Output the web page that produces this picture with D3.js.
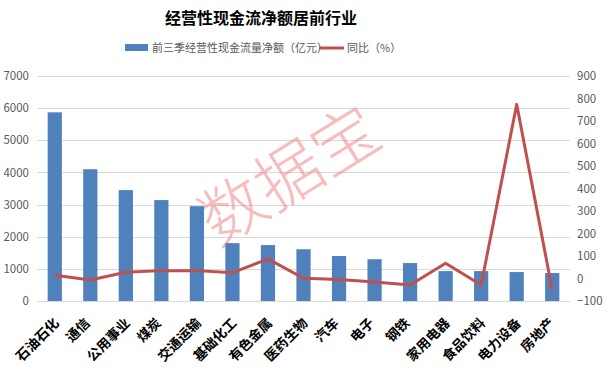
<!DOCTYPE html>
<html>
<head>
<meta charset="utf-8">
<script src="https://cdn.jsdelivr.net/npm/d3@7"></script>
<style>
  body { margin: 0; background: #fff; }
  text { font-family: "Noto Sans CJK SC", "DejaVu Sans", sans-serif; }
</style>
</head>
<body>
<svg id="chart" width="606" height="371"></svg>
<script>
// data
let categories = ["石油石化", "通信", "公用事业", "煤炭", "交通运输", "基础化工", "有色金属", "医药生物",
                  "汽车", "电子", "钢铁", "家用电器", "食品饮料", "电力设备", "房地产"];
let cashFlow = [5870, 4100, 3450, 3140, 2950, 1800, 1740, 1610, 1400, 1300, 1180, 930, 930, 900, 870];
let yoy = [14, -7, 28, 35, 35, 26, 87, 1, -4, -16, -29, 68, -29, 774, -51];
let leftTicks = [0, 1000, 2000, 3000, 4000, 5000, 6000, 7000];
let rightTicks = [-100, 0, 100, 200, 300, 400, 500, 600, 700, 800, 900];

let width = 606, height = 371;
let margin = ({top: 76, right: 36, bottom: 70, left: 37});

const svg = d3.select("#chart");

let x = d3.scaleBand()
    .domain(categories)
    .range([margin.left, width - margin.right])
    .paddingInner(0.6)
    .paddingOuter(0.3);

let y = d3.scaleLinear()
    .domain([0, 7000])
    .range([height - margin.bottom, margin.top]);

let y2 = d3.scaleLinear()
    .domain([-100, 900])
    .range([height - margin.bottom, margin.top]);

// gridlines
svg.append("g")
    .selectAll("line")
    .data(leftTicks)
    .join("line")
      .attr("x1", margin.left)
      .attr("x2", width - margin.right)
      .attr("y1", d => Math.round(y(d)) + 0.5)
      .attr("y2", d => Math.round(y(d)) + 0.5)
      .attr("stroke", "#d9d9d9")
      .attr("stroke-width", 1);

// left axis
const yAxis = g => g
    .attr("transform", `translate(${margin.left - 8},0)`)
    .call(d3.axisLeft(y).tickValues(leftTicks).tickFormat(d3.format("d")).tickSize(0).tickPadding(0))
    .call(g => g.select(".domain").remove())
    .call(g => g.selectAll("text")
        .attr("fill", "#595959")
        .attr("font-size", 11.5)
        .attr("font-family", "'Liberation Sans', Arial, sans-serif"));

// right axis
const y2Axis = g => g
    .attr("transform", `translate(${width - margin.right + 7},0)`)
    .call(d3.axisRight(y2).tickValues(rightTicks).tickFormat(d3.format("d")).tickSize(0).tickPadding(0))
    .call(g => g.select(".domain").remove())
    .call(g => g.selectAll("text")
        .attr("fill", "#595959")
        .attr("font-size", 11.5)
        .attr("font-family", "'Liberation Sans', Arial, sans-serif"));

svg.append("g").call(yAxis);
svg.append("g").call(y2Axis);

// watermark
svg.append("text")
    .attr("transform", "translate(292,180) rotate(-32)")
    .attr("text-anchor", "middle")
    .attr("dominant-baseline", "middle")
    .attr("font-size", 66)
    .attr("font-weight", 300)
    .attr("fill", "#f27a7a")
    .attr("fill-opacity", 0.5)
    .text("数据宝");

// bars
svg.append("g")
    .attr("fill", "#4f81bd")
  .selectAll("rect")
  .data(cashFlow)
  .join("rect")
    .attr("x", (d, i) => x(categories[i]))
    .attr("y", d => y(d))
    .attr("width", x.bandwidth())
    .attr("height", d => y(0) - y(d));

// line
const line = d3.line()
    .x((d, i) => x(categories[i]) + x.bandwidth() / 2)
    .y(d => y2(d));

svg.append("path")
    .datum(yoy)
    .attr("fill", "none")
    .attr("stroke", "#c0504d")
    .attr("stroke-width", 3)
    .attr("stroke-linejoin", "round")
    .attr("d", line);

// category labels
svg.append("g")
  .selectAll("text")
  .data(categories)
  .join("text")
    .attr("transform", d => `translate(${x(d) + x.bandwidth() / 2 - 4 + 2.25 * d.length},324) rotate(-45)`)
    .attr("text-anchor", "end")
    .attr("font-size", 13.5)
    .attr("font-weight", "bold")
    .attr("font-family", "'Noto Serif CJK SC', 'Noto Sans CJK SC', serif")
    .attr("fill", "#000")
    .text(d => d);

// title
svg.append("text")
    .attr("x", 261)
    .attr("y", 24)
    .attr("text-anchor", "middle")
    .attr("font-size", 16)
    .attr("font-weight", "bold")
    .attr("fill", "#000")
    .text("经营性现金流净额居前行业");

// legend
const legend = svg.append("g").attr("font-size", 11).attr("fill", "#595959");
legend.append("rect")
    .attr("x", 125).attr("y", 44).attr("width", 23).attr("height", 7)
    .attr("fill", "#4f81bd");
legend.append("text")
    .attr("x", 152).attr("y", 52)
    .text("前三季经营性现金流量净额（亿元）");
legend.append("line")
    .attr("x1", 319).attr("x2", 344).attr("y1", 48).attr("y2", 48)
    .attr("stroke", "#c0504d").attr("stroke-width", 3);
legend.append("text")
    .attr("x", 347).attr("y", 52)
    .text("同比（%）");
</script>
</body>
</html>
